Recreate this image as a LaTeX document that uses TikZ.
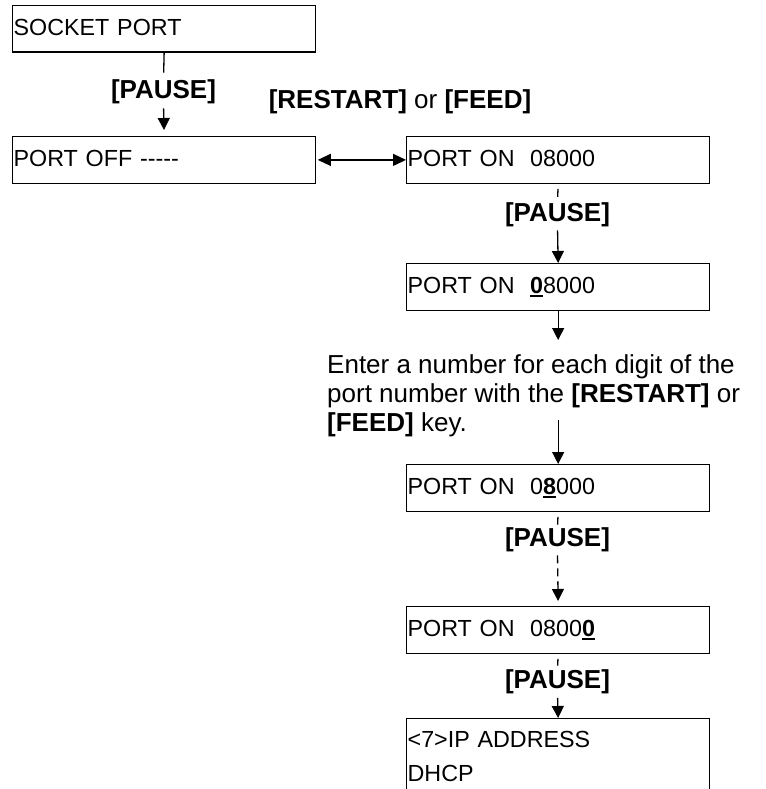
\documentclass[tikz,border=0pt]{standalone}
\usepackage{fontspec}
\setmainfont{Liberation Sans}
\usetikzlibrary{arrows.meta}
\newcommand\boxfont{\fontsize{23.3pt}{28pt}\selectfont}
\newcommand\lblfont{\fontsize{26pt}{29pt}\selectfont}
\newsavebox\digbox
\newcommand\udig[1]{\sbox\digbox{\bfseries #1}\rlap{\rule[-3.5pt]{\wd\digbox}{1.8pt}}\usebox\digbox}
\begin{document}
\begin{tikzpicture}[x=1pt,y=-1pt,
  box/.style={draw, line width=1.3pt, anchor=north west, text width=301pt, inner xsep=1pt, align=left, font=\boxfont},
  onebox/.style={box, minimum height=46.5pt, inner ysep=0pt, text height=16.7pt, text depth=4pt},
  lbl/.style={font=\lblfont\bfseries, inner sep=0pt, text height=19pt, text depth=5.5pt},
  conn/.style={line width=1.3pt},
  arr/.style={conn, -{Triangle[width=12pt,length=12pt]}},
  darr/.style={conn, {Triangle[width=12pt,length=13pt]}-{Triangle[width=12pt,length=13pt]}},
  dsh/.style={conn, dash pattern=on 8pt off 5pt, dash phase=8pt}
]
\useasboundingbox (0,0) rectangle (765,789);
\clip (0,0) rectangle (765,789);

% boxes
\node[onebox] (sp) at (12,5) {SOCKET PORT};
\node[onebox] (off) at (12,136) {PORT OFF -{}-{}-{}-{}-};
\node[onebox] (on1) at (406,136) {PORT ON~~08000};
\node[onebox] (on2) at (406,263) {PORT ON~~\udig{0}8000};
\node[onebox] (on3) at (406,464) {PORT ON~~0\udig{8}000};
\node[onebox] (on4) at (406,606) {PORT ON~~0800\udig{0}};
\node[box, inner ysep=12.3pt] (ip) at (406,718) {<7>IP ADDRESS\\[6pt]DHCP};

% labels
\node[lbl] (p1) at (163.5,92) {[PAUSE]};
\node[lbl] (rf) at (400,102) {[RESTART] \textmd{or} [FEED]};
\node[lbl] (p2) at (557.5,215) {[PAUSE]};
\node[lbl] (p3) at (557.5,540) {[PAUSE]};
\node[lbl] (p4) at (557.5,682) {[PAUSE]};
\node[font=\lblfont, align=left, inner sep=0pt, anchor=north west] (ent) at (327,354)
  {Enter a number for each digit of the\\port number with the \textbf{[RESTART]} or\\\textbf{[FEED]} key.};

% connectors
\draw[conn, shorten >=7pt] (sp.south) -- (p1.north);
\draw[arr, shorten <=4pt, shorten >=6pt] (p1.south) -- (off.north);
\draw[darr, shorten <=1.5pt] (off.east) -- (on1.west);
\draw[dsh, shorten >=5pt] (on1.south) -- (p2.north);
\draw[arr, shorten <=3pt] (p2.south) -- (on2.north);
\draw[arr, shorten >=14pt] (on2.south) -- (on2.south |- ent.north);
\path (on3.north) ++(0,-44) coordinate (c3);
\draw[arr] (c3) -- (on3.north);
\draw[dsh, shorten >=3pt] (on3.south) -- (p3.north);
\draw[arr, dash pattern=on 8pt off 5pt, shorten <=3pt, shorten >=5pt] (p3.south) -- (on4.north);
\draw[dsh, shorten >=4pt] (on4.south) -- (p4.north);
\draw[arr, shorten <=3.5pt] (p4.south) -- (ip.north);
\end{tikzpicture}
\end{document}
